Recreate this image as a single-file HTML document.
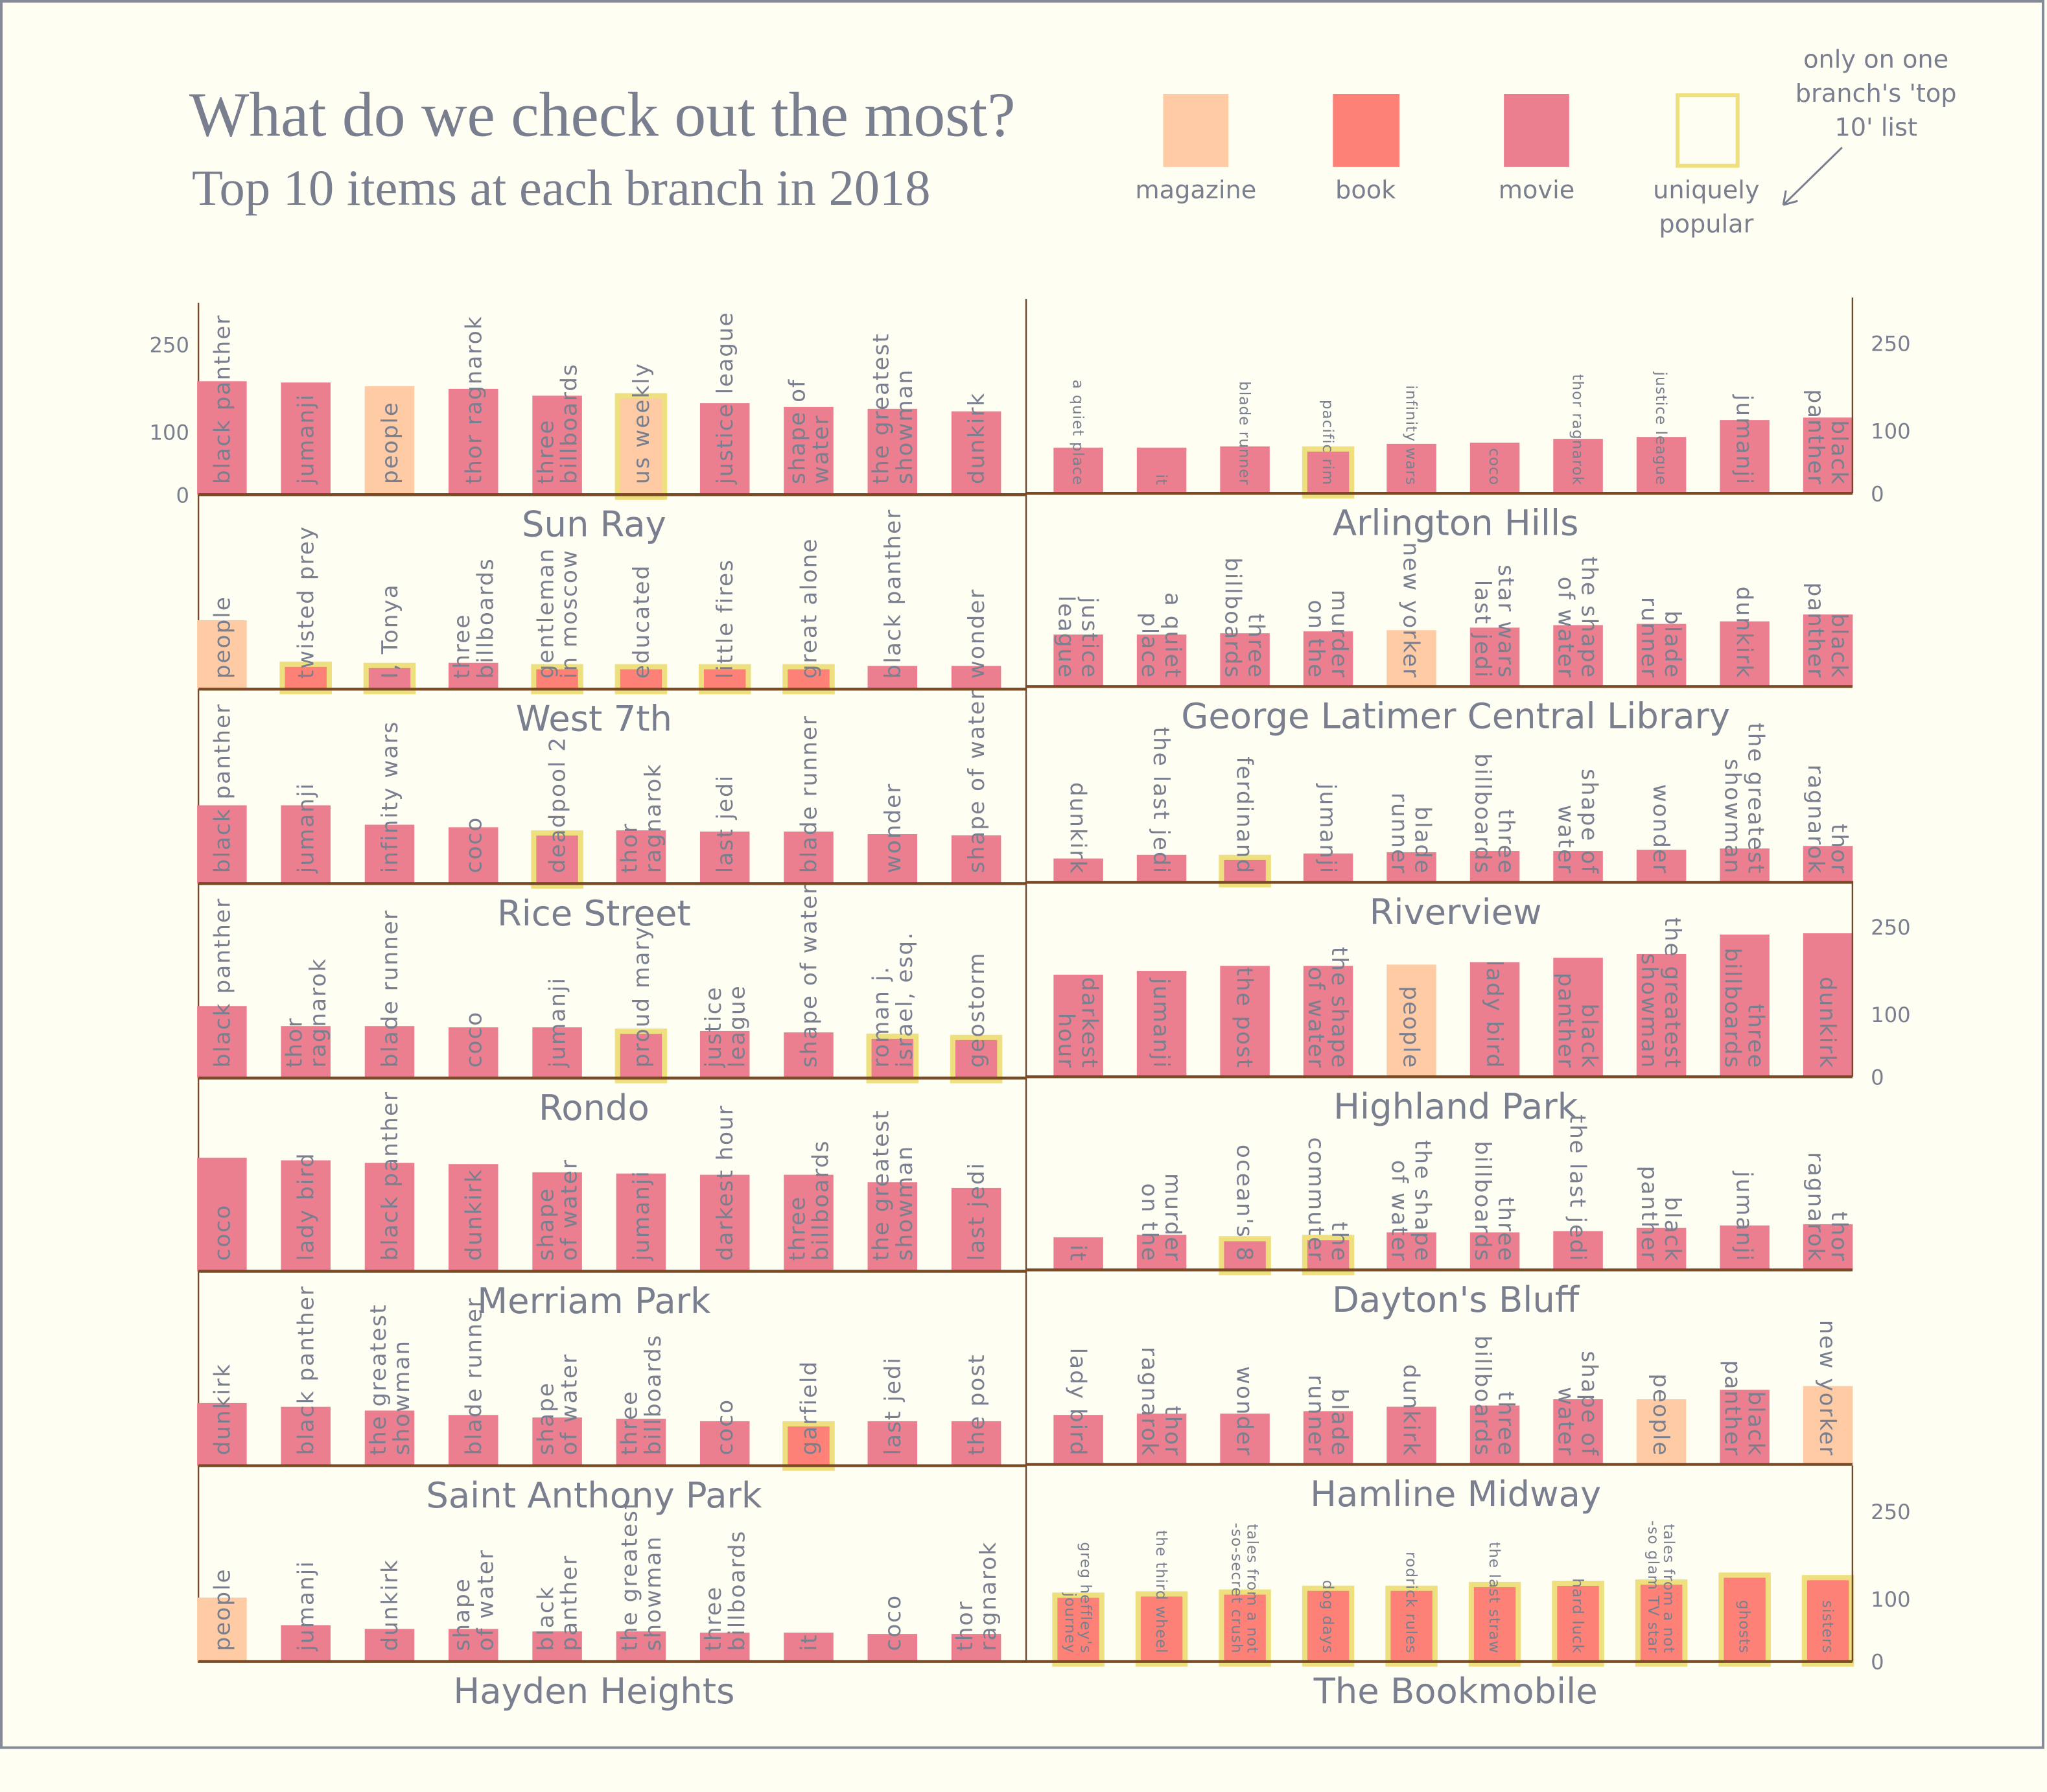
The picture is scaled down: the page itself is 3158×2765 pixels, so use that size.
<!DOCTYPE html>
<html><head><meta charset="utf-8">
<style>
html,body{margin:0;padding:0;background:#fffef3;}
svg{display:block;}
text{font-family:"DejaVu Sans","Liberation Sans",sans-serif;fill:#7a7f8f;}
.serif{font-family:"Liberation Serif",serif;}
</style></head>
<body>
<svg id="chart" width="3158" height="2765" viewBox="0 0 1568 1373" preserveAspectRatio="none" xmlns="http://www.w3.org/2000/svg">
<rect x="0" y="0" width="1568" height="1373" fill="#fffef3"/>
<rect x="1" y="1" width="1564" height="1338" fill="none" stroke="#868b99" stroke-width="2"/>
<text class="serif" x="145" y="104" font-size="48.5">What do we check out the most?</text>
<text class="serif" x="147" y="157" font-size="39">Top 10 items at each branch in 2018</text>
<g>
<rect x="891" y="72" width="50" height="56" fill="#fecba5"/>
<rect x="1021" y="72" width="51" height="56" fill="#fe8177"/>
<rect x="1152" y="72" width="50" height="56" fill="#ec7f8f"/>
<rect x="1285" y="73" width="46" height="54" fill="none" stroke="#eee07f" stroke-width="3"/>
<text x="916" y="152" font-size="19" text-anchor="middle">magazine</text>
<text x="1046" y="152" font-size="19" text-anchor="middle">book</text>
<text x="1177" y="152" font-size="19" text-anchor="middle">movie</text>
<text x="1307" y="152" font-size="19" text-anchor="middle">uniquely</text>
<text x="1307" y="178" font-size="19" text-anchor="middle">popular</text>
<text x="1437" y="52" font-size="19" text-anchor="middle">only on one</text>
<text x="1437" y="78" font-size="19" text-anchor="middle">branch's 'top</text>
<text x="1437" y="104" font-size="19" text-anchor="middle">10' list</text>
<path d="M1411 113 L1366 157 M1366 157 L1368 146 M1366 157 L1377 154" stroke="#7a7f8f" stroke-width="1.5" fill="none"/>
</g>
<g id="panels"></g>
</svg>
<script>
// ---- data ----
const branchNames = ["Sun Ray","West 7th","Rice Street","Rondo","Merriam Park","Saint Anthony Park","Hayden Heights",
  "Arlington Hills","George Latimer Central Library","Riverview","Highland Park","Dayton's Bluff","Hamline Midway","The Bookmobile"];
const itemsSunRay = ["black panther","jumanji","people","thor ragnarok","three\nbillboards","us weekly","justice league","shape of\nwater","the greatest\nshowman","dunkirk"];
const valsSunRay = [181,179,173,169,158,162,146,140,137,133];
const typesSunRay = "vvmvvmvvvv";
const uniqSunRay = [5];
const itemsWest7 = ["people","twisted prey","I, Tonya","three\nbillboards","gentleman\nin moscow","educated","little fires","great alone","black panther","wonder"];
const valsWest7 = [110,44,42,42,40,40,40,40,37,37];
const typesWest7 = "mbvvbbbbvv";
const uniqWest7 = [1,2,4,5,6,7];
const itemsRice = ["black panther","jumanji","infinity wars","coco","deadpool 2","thor\nragnarok","last jedi","blade runner","wonder","shape of water"];
const valsRice = [125,125,94,90,85,85,83,83,79,77];
const typesRice = "vvvvvvvvvv";
const uniqRice = [4];
const itemsRondo = ["black panther","thor\nragnarok","blade runner","coco","jumanji","proud mary","justice\nleague","shape of water","roman j.\nisrael, esq.","geostorm"];
const valsRondo = [115,83,83,81,81,79,75,73,71,69];
const typesRondo = "vvvvvvvvvv";
const uniqRondo = [5,8,9];
const itemsMerriam = ["coco","lady bird","black panther","dunkirk","shape\nof water","jumanji","darkest hour","three\nbillboards","the greatest\nshowman","last jedi"];
const valsMerriam = [181,177,173,171,158,156,154,154,142,133];
const typesMerriam = "vvvvvvvvvv";
const uniqMerriam = [];
const itemsStAnthony = ["dunkirk","black panther","the greatest\nshowman","blade runner","shape\nof water","three\nbillboards","coco","garfield","last jedi","the post"];
const valsStAnthony = [100,94,88,81,77,75,71,71,71,71];
const typesStAnthony = "vvvvvvvbvv";
const uniqStAnthony = [7];
const itemsHayden = ["people","jumanji","dunkirk","shape\nof water","black\npanther","the greatest\nshowman","three\nbillboards","it","coco","thor\nragnarok"];
const valsHayden = [102,58,52,52,48,48,46,46,44,44];
const typesHayden = "mvvvvvvvvv";
const uniqHayden = [];
const itemsArlington = ["a quiet place","it","blade runner","pacific rim","infinity wars","coco","thor ragnarok","justice league","jumanji","black\npanther"];
const valsArlington = [73,73,75,75,79,81,87,90,117,121];
const typesArlington = "vvvvvvvvvv";
const uniqArlington = [3];
const itemsLatimer = ["justice\nleague","a quiet\nplace","three\nbillboards","murder\non the","new yorker","star wars\nlast jedi","the shape\nof water","blade\nrunner","dunkirk","black\npanther"];
const valsLatimer = [83,83,85,88,90,94,98,100,104,115];
const typesLatimer = "vvvvmvvvvv";
const uniqLatimer = [];
const itemsRiverview = ["dunkirk","the last jedi","ferdinand","jumanji","blade\nrunner","three\nbillboards","shape of\nwater","wonder","the greatest\nshowman","thor\nragnarok"];
const valsRiverview = [38,44,44,46,48,50,50,52,54,58];
const typesRiverview = "vvvvvvvvvv";
const uniqRiverview = [2];
const itemsHighland = ["darkest\nhour","jumanji","the post","the shape\nof water","people","lady bird","black\npanther","the greatest\nshowman","three\nbillboards","dunkirk"];
const valsHighland = [163,169,177,177,179,183,190,196,227,229];
const typesHighland = "vvvvmvvvvv";
const uniqHighland = [];
const itemsDayton = ["it","murder\non the","ocean's 8","the\ncommuter","the shape\nof water","three\nbillboards","the last jedi","black\npanther","jumanji","thor\nragnarok"];
const valsDayton = [52,56,54,56,60,60,62,67,71,73];
const typesDayton = "vvvvvvvvvv";
const uniqDayton = [2,3];
const itemsHamline = ["lady bird","thor\nragnarok","wonder","blade\nrunner","dunkirk","three\nbillboards","shape of\nwater","people","black\npanther","new yorker"];
const valsHamline = [79,81,81,85,92,94,104,104,119,125];
const typesHamline = "vvvvvvvmvm";
const uniqHamline = [];
const itemsBookmobile = ["greg heffley's\njourney","the third wheel","tales from a not\n-so-secret crush","dog days","rodrick rules","the last straw","hard luck","tales from a not\n-so glam TV star","ghosts","sisters"];
const valsBookmobile = [110,112,115,121,121,127,129,131,142,138];
const typesBookmobile = "bbbbbbbbbb";
const uniqBookmobile = [0,1,2,3,4,5,6,7,8,9];
const tickValues = [0,100,250];
const tickLabels = ["0","100","250"];

// ---- layout ----
const NS = "http://www.w3.org/2000/svg";
const root = document.getElementById("panels");
const colors = {v:"#ec7f8f", b:"#fe8177", m:"#fecba5"};
const K = 0.48;
function yScale(base, v){ return base - v*K; }
function xLeft(i){ return 170 + i*64.2; }
function xRight(i){ return 826 + i*63.8; }
const panels = [
 {items:itemsSunRay, vals:valsSunRay, types:typesSunRay, uniq:uniqSunRay, side:"L", base:379, axis:true},
 {items:itemsWest7, vals:valsWest7, types:typesWest7, uniq:uniqWest7, side:"L", base:528},
 {items:itemsRice, vals:valsRice, types:typesRice, uniq:uniqRice, side:"L", base:677},
 {items:itemsRondo, vals:valsRondo, types:typesRondo, uniq:uniqRondo, side:"L", base:826},
 {items:itemsMerriam, vals:valsMerriam, types:typesMerriam, uniq:uniqMerriam, side:"L", base:974},
 {items:itemsStAnthony, vals:valsStAnthony, types:typesStAnthony, uniq:uniqStAnthony, side:"L", base:1123},
 {items:itemsHayden, vals:valsHayden, types:typesHayden, uniq:uniqHayden, side:"L", base:1273},
 {items:itemsArlington, vals:valsArlington, types:typesArlington, uniq:uniqArlington, side:"R", base:378, axis:true, small:[0,1,2,3,4,5,6,7]},
 {items:itemsLatimer, vals:valsLatimer, types:typesLatimer, uniq:uniqLatimer, side:"R", base:526},
 {items:itemsRiverview, vals:valsRiverview, types:typesRiverview, uniq:uniqRiverview, side:"R", base:676},
 {items:itemsHighland, vals:valsHighland, types:typesHighland, uniq:uniqHighland, side:"R", base:825, axis:true},
 {items:itemsDayton, vals:valsDayton, types:typesDayton, uniq:uniqDayton, side:"R", base:973},
 {items:itemsHamline, vals:valsHamline, types:typesHamline, uniq:uniqHamline, side:"R", base:1122},
 {items:itemsBookmobile, vals:valsBookmobile, types:typesBookmobile, uniq:uniqBookmobile, side:"R", base:1273, axis:true, small:[0,1,2,3,4,5,6,7,8,9]}
];
function mk(tag, attrs, parent){
  const e = document.createElementNS(NS, tag);
  for (const k in attrs) e.setAttribute(k, attrs[k]);
  parent.appendChild(e);
  return e;
}
function slug(s){ return s.toLowerCase().replace(/[^a-z0-9]+/g,"-").replace(/^-|-$/g,""); }

const spL = mk("line",{x1:152,y1:232,x2:152,y2:1274,stroke:"#7a4a25","stroke-width":1.2},root);


const spM = mk("line",{x1:786,y1:229,x2:786,y2:1274,stroke:"#6b4a30","stroke-width":1.2},root);



panels.forEach((p, pi) => {
  const g = mk("g",{},root);
  
  
  const L = p.side === "L";
  const x0 = L ? 152 : 786, x1 = L ? 786 : 1419;
  const xf = L ? xLeft : xRight;
  p.vals.forEach((v, i) => {
    const cx = xf(i), top = yScale(p.base, v);
    const isU = p.uniq.indexOf(i) >= 0;
    const r = mk("rect",{x:cx-19, y:top, width:38, height:p.base-top, fill:colors[p.types[i]]}, g);
    if (isU){ r.setAttribute("stroke","#eee07f"); r.setAttribute("stroke-width","4"); r.setAttribute("x",cx-18); r.setAttribute("width",36); r.setAttribute("y",top+2); r.setAttribute("height",p.base-top); }
    
    
  });
  const bl = mk("line",{x1:x0, y1:p.base, x2:x1, y2:p.base, stroke:"#7a4a25","stroke-width":2.2}, g);
  
  
  p.items.forEach((name, i) => {
    const cx = xf(i);
    const small = p.small && p.small.indexOf(i) >= 0;
    const fs = small ? 11.5 : 17;
    const lines = name.split("\n");
    const gap = small ? 6 : 9;
    const t = mk("text",{"font-size":fs, "letter-spacing": small? 0.5 : 1}, g);
    
    
    if (L){
      t.setAttribute("transform", `translate(${cx},${p.base-8}) rotate(-90)`);
      t.setAttribute("text-anchor","start");
    } else {
      t.setAttribute("transform", `translate(${cx},${p.base-6}) rotate(90)`);
      t.setAttribute("text-anchor","end");
    }
    lines.forEach((ln, li) => {
      const off = (li - (lines.length-1)/2) * gap*2 + fs*0.35;
      const ts = mk("tspan",{x:0, y:off}, t);
      ts.textContent = ln;
    });
  });
  const bn = mk("text",{x: L ? 455 : 1115, y: p.base + 32, "font-size": 27, "text-anchor":"middle"}, g);
  bn.textContent = branchNames[pi];
  
  
  if (p.axis){
    if (!L){
      const ax = mk("line",{x1:1419, y1:p.base-150, x2:1419, y2:p.base, stroke:"#6b4a30","stroke-width":1.2}, g);
      
      
    }
    tickValues.forEach((tv, ti) => {
      const ty = yScale(p.base, tv) + (tv===250 ? 5 : 0);
      const tt = mk("text",{x: L ? 145 : 1433, y: ty+6, "font-size":16, "text-anchor": L ? "end" : "start"}, g);
      tt.textContent = tickLabels[ti];
      
      
    });
  }
});
</script>
</body></html>
